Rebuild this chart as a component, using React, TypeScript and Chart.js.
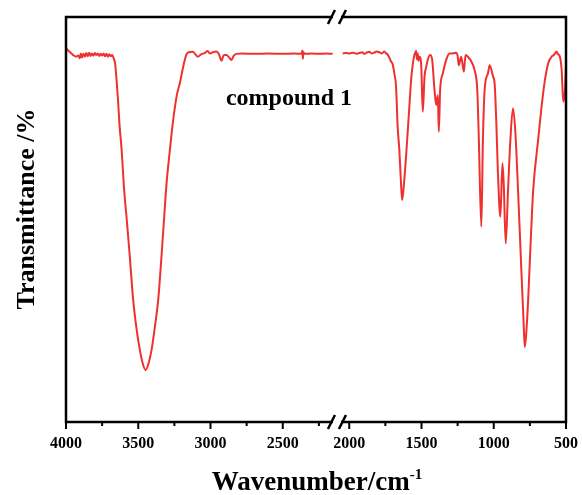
import React, { useEffect, useRef } from 'react';
import { Chart, registerables } from 'chart.js';

Chart.register(...registerables);

// ---- data (wavenumber in cm-1, transmittance in %) ----
const highWavenumbers = [
  4000, 3990, 3972, 3950, 3930, 3915, 3905, 3897, 3890, 3880, 3870, 3860, 3850, 3840, 3830, 3820,
  3810, 3800, 3790, 3780, 3770, 3760, 3750, 3740, 3730, 3720, 3710, 3700, 3690, 3680, 3670, 3660,
  3650, 3640, 3630, 3615, 3600, 3592, 3581, 3560, 3535, 3510, 3489, 3468, 3449, 3430, 3408, 3385,
  3362, 3345, 3328, 3304, 3281, 3261, 3233, 3212, 3191, 3175, 3166, 3150, 3122, 3105, 3088, 3065,
  3040, 3019, 3005, 2984, 2959, 2943, 2924, 2908, 2889, 2873, 2855, 2840, 2820, 2780, 2700, 2600,
  2500, 2420, 2370, 2364, 2361, 2357, 2350, 2300, 2250, 2200, 2155,
];
const highTransmittance = [
  92.3, 91.9, 91.3, 90.6, 90.2, 90.5, 89.8, 91.0, 90.0, 90.9, 90.2, 91.1, 90.3, 91.2, 90.4, 91.0,
  90.5, 91.1, 90.6, 91.0, 90.4, 90.9, 90.5, 91.0, 90.3, 90.9, 90.2, 90.8, 90.3, 90.6, 89.8, 88.5,
  84.4, 79.5, 73.5, 67.2, 58.5, 54.8, 50.6, 41.5, 30.1, 22.5, 17.8, 14.3, 12.8, 14.3, 17.8, 23.5,
  30.1, 38.0, 46.7, 59.0, 67.2, 73.8, 80.7, 83.7, 87.4, 89.8, 90.8, 91.3, 91.4, 90.8, 90.2, 90.8,
  91.1, 91.6, 91.0, 91.3, 91.5, 90.9, 89.2, 90.6, 90.6, 90.1, 89.4, 90.4, 90.9, 91.0, 90.9, 91.0,
  90.9, 91.0, 90.9, 91.7, 89.7, 91.3, 90.9, 91.0, 90.9, 91.0, 90.9,
];
const lowWavenumbers = [
  2046, 2020, 2000, 1970, 1950, 1931, 1910, 1896, 1880, 1861, 1845, 1827, 1810, 1792, 1775, 1757,
  1745, 1736, 1720, 1711, 1700, 1688, 1676, 1665, 1653, 1643, 1634, 1625, 1607, 1584, 1572, 1561,
  1549, 1537, 1531, 1526, 1520, 1514, 1502, 1491, 1479, 1467, 1457, 1440, 1426, 1410, 1398, 1387,
  1380, 1371, 1352, 1329, 1306, 1283, 1260, 1250, 1242, 1225, 1207, 1195, 1179, 1155, 1133, 1114,
  1103, 1086, 1075, 1063, 1040, 1028, 1005, 994, 982, 971, 954, 940, 931, 917, 901, 885,
  867, 850, 832, 808, 795, 785, 775, 762, 745, 727, 693, 669, 646, 623, 599, 585,
  576, 565, 556, 547, 530, 519, 507, 500,
];
const lowTransmittance = [
  91.0, 91.1, 91.0, 91.2, 90.9, 91.1, 91.3, 90.9, 91.2, 91.4, 91.0, 91.2, 91.5, 91.3, 91.0, 91.5,
  91.0, 90.8, 89.8, 89.0, 88.4, 86.1, 82.8, 72.9, 67.0, 59.8, 54.8, 57.3, 65.5, 77.9, 84.4, 88.1,
  90.6, 91.6, 89.5, 91.0, 89.2, 90.2, 88.1, 76.6, 85.3, 87.7, 89.4, 90.6, 89.4, 82.0, 78.3, 80.7,
  71.7, 82.0, 86.1, 89.4, 91.0, 91.0, 91.2, 90.4, 88.1, 90.2, 86.5, 90.6, 90.2, 89.0, 86.9, 82.0,
  69.6, 48.2, 69.6, 82.0, 86.1, 88.1, 85.3, 83.6, 73.8, 61.4, 50.7, 63.9, 58.9, 44.1, 57.3, 69.6,
  77.5, 71.3, 57.3, 36.7, 26.0, 18.5, 22.0, 30.1, 44.0, 57.3, 69.6, 77.9, 84.4, 88.6, 90.2, 90.6,
  91.0, 91.5, 90.8, 90.6, 86.9, 79.1, 82.0, 88.0,
];

const majorTicks = [4000, 3500, 3000, 2500, 2000, 1500, 1000, 500];
const minorTicks = [3750, 3250, 2750, 2250, 1750, 1250, 750];
const xTitle = 'Wavenumber/cm';
const xTitleSup = '-1';
const yTitle = 'Transmittance /%';
const sampleLabel = 'compound 1';
const sampleLabelAt = { wn: 2893, t: 78.3 };

// axis break: wavenumbers below BREAK_AT are shifted on the axis
const BREAK_AT = 2100;
const BREAK_SHIFT = 40;
const BREAK_MARK = 2125;
const toAxis = (wn: number) => (wn < BREAK_AT ? wn + BREAK_SHIFT : wn);

const FONT = '"Liberation Serif", "Times New Roman", serif';
const LINE_COLOR = '#f0302f';

const decorPlugin = {
  id: 'decor',
  afterDatasetsDraw(chart: any) {
    const { ctx, chartArea } = chart;
    const xs = chart.scales.x;
    const ys = chart.scales.y;
    const { left, right, top, bottom } = chartArea;
    ctx.save();
    // frame
    ctx.strokeStyle = '#000';
    ctx.lineWidth = 2.5;
    ctx.strokeRect(left, top, right - left, bottom - top);
    // ticks
    ctx.lineWidth = 2;
    majorTicks.forEach((wn) => {
      const px = xs.getPixelForValue(toAxis(wn));
      ctx.beginPath();
      ctx.moveTo(px, bottom);
      ctx.lineTo(px, bottom + 7);
      ctx.stroke();
    });
    minorTicks.forEach((wn) => {
      const px = xs.getPixelForValue(toAxis(wn));
      ctx.beginPath();
      ctx.moveTo(px, bottom);
      ctx.lineTo(px, bottom + 4);
      ctx.stroke();
    });
    // tick labels
    ctx.fillStyle = '#000';
    ctx.font = `bold 16px ${FONT}`;
    ctx.textAlign = 'center';
    ctx.textBaseline = 'alphabetic';
    majorTicks.forEach((wn) => {
      const px = xs.getPixelForValue(toAxis(wn));
      ctx.fillText(String(wn), px, 448);
    });
    // break marks
    const bx = xs.getPixelForValue(BREAK_MARK);
    [top, bottom].forEach((yy) => {
      ctx.fillStyle = '#fff';
      ctx.fillRect(bx - 4, yy - 2, 8, 4);
      ctx.strokeStyle = '#000';
      ctx.lineWidth = 2.5;
      [-5.5, 5.5].forEach((off) => {
        ctx.beginPath();
        ctx.moveTo(bx + off - 3.5, yy + 7);
        ctx.lineTo(bx + off + 3.5, yy - 7);
        ctx.stroke();
      });
    });
    // x title
    ctx.fillStyle = '#000';
    ctx.font = `bold 27px ${FONT}`;
    const mainW = ctx.measureText(xTitle).width;
    ctx.font = `bold 15px ${FONT}`;
    const supW = ctx.measureText(xTitleSup).width;
    const totalW = mainW + supW;
    const cx = (left + right) / 2 + 1;
    const startX = cx - totalW / 2;
    ctx.textAlign = 'left';
    ctx.font = `bold 27px ${FONT}`;
    ctx.fillText(xTitle, startX, 490);
    ctx.font = `bold 15px ${FONT}`;
    ctx.fillText(xTitleSup, startX + mainW, 479);
    // y title
    ctx.save();
    ctx.translate(34, 209);
    ctx.rotate(-Math.PI / 2);
    ctx.font = `bold 26px ${FONT}`;
    ctx.textAlign = 'center';
    ctx.fillText(yTitle, 0, 0);
    ctx.restore();
    // sample label
    ctx.font = `bold 24px ${FONT}`;
    ctx.textAlign = 'left';
    ctx.fillText(sampleLabel, xs.getPixelForValue(sampleLabelAt.wn), ys.getPixelForValue(sampleLabelAt.t));
    ctx.restore();
  },
};

export default function App() {
  const canvasRef = useRef<HTMLCanvasElement | null>(null);
  useEffect(() => {
    const canvas = canvasRef.current;
    if (!canvas) return;
    const points: { x: number; y: number | null }[] = [];
    highWavenumbers.forEach((wn, i) => points.push({ x: toAxis(wn), y: highTransmittance[i] }));
    points.push({ x: BREAK_MARK - 5, y: null });
    lowWavenumbers.forEach((wn, i) => points.push({ x: toAxis(wn), y: lowTransmittance[i] }));
    points.sort((a, b) => a.x - b.x);
    const chart = new Chart(canvas, {
      type: 'line',
      data: {
        datasets: [
          {
            data: points as any,
            borderColor: LINE_COLOR,
            borderWidth: 2,
            pointRadius: 0,
            cubicInterpolationMode: 'monotone',
            spanGaps: false,
            fill: false,
          },
        ],
      },
      options: {
        animation: false,
        responsive: false,
        devicePixelRatio: 1,
        layout: { padding: { left: 66, top: 17, right: 16, bottom: 73 } },
        plugins: { legend: { display: false }, tooltip: { enabled: false } },
        scales: {
          x: { type: 'linear', min: 500 + BREAK_SHIFT, max: 4000, reverse: true, display: false },
          y: { type: 'linear', min: 0, max: 100, display: false },
        },
      },
      plugins: [decorPlugin],
    });
    return () => chart.destroy();
  }, []);
  return (
    <div style={{ position: 'absolute', left: 0, top: 0, width: 582, height: 495, background: '#fff' }}>
      <canvas ref={canvasRef} width={582} height={495} />
    </div>
  );
}
